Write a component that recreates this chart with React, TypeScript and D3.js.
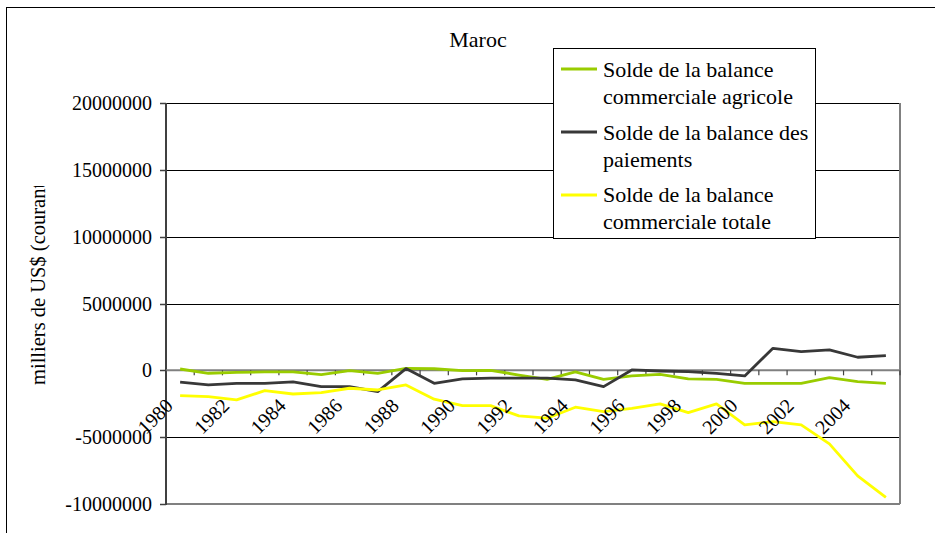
import React from "react";
import * as d3 from "d3";

const years = ["1980","1981","1982","1983","1984","1985","1986","1987","1988","1989","1990","1991","1992","1993","1994","1995","1996","1997","1998","1999","2000","2001","2002","2003","2004","2005"];
const agricole = [100000, -220000, -150000, -120000, -120000, -320000, -20000, -220000, 150000, 120000, -20000, 0, -350000, -670000, -120000, -670000, -420000, -300000, -640000, -670000, -970000, -970000, -970000, -540000, -840000, -970000];
const paiements = [-890000, -1090000, -970000, -970000, -870000, -1220000, -1220000, -1590000, 130000, -970000, -640000, -590000, -590000, -590000, -720000, -1220000, 30000, -50000, -100000, -220000, -420000, 1650000, 1400000, 1530000, 980000, 1100000];
const totale = [-1890000, -1970000, -2210000, -1520000, -1770000, -1670000, -1340000, -1470000, -1090000, -2160000, -2640000, -2640000, -3410000, -3580000, -2760000, -3090000, -2840000, -2510000, -3160000, -2510000, -4080000, -3840000, -4080000, -5500000, -7900000, -9500000];
const yTicks = [-10000000, -5000000, 0, 5000000, 10000000, 15000000, 20000000];
const xLabels = ["1980","1982","1984","1986","1988","1990","1992","1994","1996","1998","2000","2002","2004"];
const seriesNames = [
  ["Solde de la balance", "commerciale agricole"],
  ["Solde de la balance des", "paiements"],
  ["Solde de la balance", "commerciale totale"],
];
const colors = ["#99CC00", "#383838", "#FFFF00"];

const FONT = '"Times New Roman", "Liberation Serif", Tinos, "Noto Serif", "DejaVu Serif", Times, serif';

export default function App() {
  const left = 166, right = 900, top = 103, bottom = 504;
  const x = d3.scaleBand<string>().domain(years).range([left, right]);
  const y = d3.scaleLinear().domain([-10000000, 20000000]).range([bottom, top]);
  const cx = (yr: string) => (x(yr) as number) + x.bandwidth() / 2;
  const line = d3.line<number>().x((_, i) => cx(years[i])).y((v) => y(v));
  const series = [agricole, paiements, totale];
  const boundaries = years.map((yr) => x(yr) as number).concat([right]);
  const ts = { fontFamily: FONT };

  return (
    <svg width={935} height={533} style={{ position: "absolute", left: 0, top: 0, background: "#fff", fontFamily: FONT, display: "block" }}>
      <defs>
        <clipPath id="ylab">
          <rect x={0} y={186} width={100} height={400} />
        </clipPath>
      </defs>
      <rect x={0} y={0} width={935} height={533} fill="#fff" />
      <line x1={6.5} x2={6.5} y1={7} y2={533} stroke="#000" strokeWidth={1} />
      <line x1={6} x2={935} y1={7.5} y2={7.5} stroke="#000" strokeWidth={1} />
      <text x={478} y={47} fontSize={22} textAnchor="middle" style={ts}>Maroc</text>

      {yTicks.filter((t) => t !== 0 && t !== -10000000).map((t) => (
        <line key={t} x1={left} x2={right} y1={Math.round(y(t)) + 0.5} y2={Math.round(y(t)) + 0.5} stroke="#000" strokeWidth={1} />
      ))}
      <line x1={right} x2={right} y1={top} y2={bottom} stroke="#808080" strokeWidth={2} />
      <line x1={left} x2={right} y1={bottom} y2={bottom} stroke="#808080" strokeWidth={2} />

      <line x1={left} x2={left} y1={top} y2={bottom + 1} stroke="#404040" strokeWidth={2} />
      {yTicks.map((t) => (
        <g key={t}>
          <line x1={left - 6} x2={left} y1={Math.round(y(t)) + 0.5} y2={Math.round(y(t)) + 0.5} stroke="#404040" strokeWidth={1.5} />
          <text x={152} y={y(t)} dy="0.35em" fontSize={20} textAnchor="end" style={ts}>{t}</text>
        </g>
      ))}

      <line x1={left} x2={right} y1={y(0)} y2={y(0)} stroke="#808080" strokeWidth={2} />
      {boundaries.map((b, i) => (
        <line key={i} x1={b} x2={b} y1={y(0)} y2={y(0) + 5} stroke="#404040" strokeWidth={1.2} />
      ))}

      {series.map((s, i) => (
        <path key={i} d={line(s) || ""} fill="none" stroke={colors[i]} strokeWidth={2.8} strokeLinejoin="round" />
      ))}

      {xLabels.map((lab) => (
        <text key={lab} transform={`translate(${cx(lab) - 6},407) rotate(-45)`} fontSize={20} textAnchor="end" style={ts}>{lab}</text>
      ))}

      <g clipPath="url(#ylab)">
        <text transform="translate(45,385) rotate(-90)" fontSize={20.5} textAnchor="start" style={ts}>milliers de US$ (courants)</text>
      </g>

      <rect x={553.5} y={48.5} width={262} height={190} fill="#fff" stroke="#000" strokeWidth={1} />
      {seriesNames.map((nm, i) => (
        <g key={i}>
          <line x1={561} x2={597} y1={69 + i * 63} y2={69 + i * 63} stroke={colors[i]} strokeWidth={3} />
          <text x={603} y={77 + i * 62.5} fontSize={22} style={ts}>{nm[0]}</text>
          <text x={603} y={104 + i * 62.5} fontSize={22} style={ts}>{nm[1]}</text>
        </g>
      ))}
    </svg>
  );
}
